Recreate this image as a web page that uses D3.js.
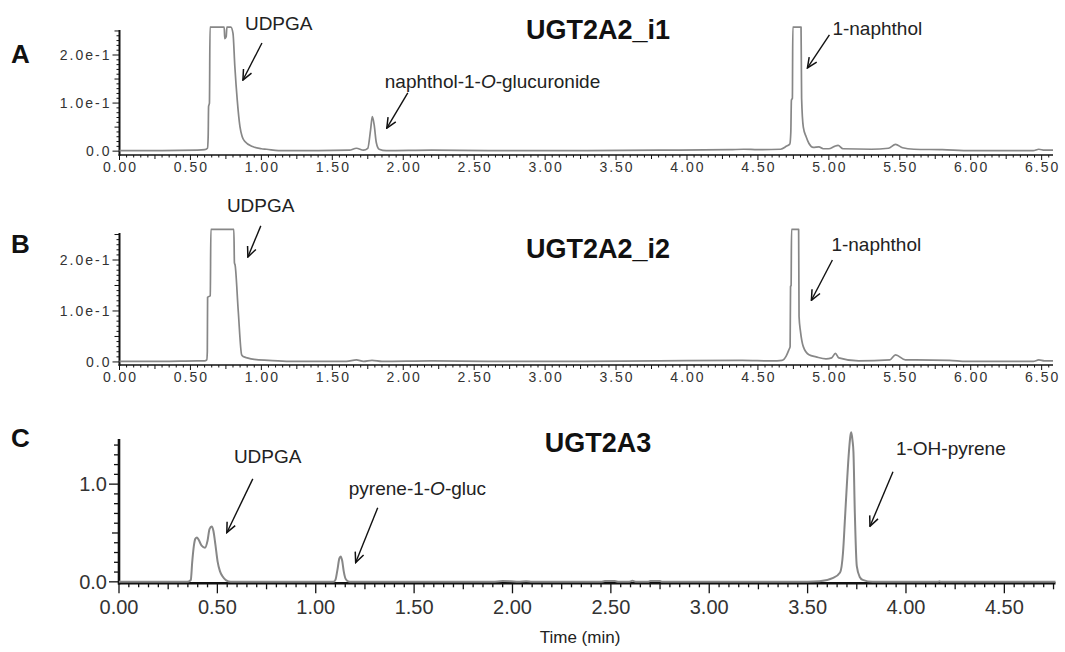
<!DOCTYPE html>
<html>
<head>
<meta charset="utf-8">
<script src="https://cdn.jsdelivr.net/npm/d3@7"></script>
<style>
  body { margin: 0; background: #fff; }
  svg { display: block; font-family: "Liberation Sans", Arial, sans-serif; }
</style>
</head>
<body>
<svg id="chart" width="1065" height="652"></svg>
<script>
// chromatogram traces: [time (min), signal]
const traceA = [
  [0.00, 0.001], [0.30, 0.001], [0.55, 0.002], [0.60, 0.003], [0.62, 0.006], [0.625, 0.03],
  [0.628, 0.093], [0.634, 0.10], [0.638, 0.258], [0.738, 0.258], [0.742, 0.234], [0.752, 0.238],
  [0.757, 0.258], [0.785, 0.258], [0.80, 0.245], [0.813, 0.176], [0.83, 0.106], [0.849, 0.051],
  [0.865, 0.03], [0.884, 0.02], [0.942, 0.009], [1.00, 0.005], [1.037, 0.004], [1.12, 0.001],
  [1.40, 0.001], [1.62, 0.002], [1.67, 0.006], [1.72, 0.002], [1.75, 0.006], [1.77, 0.045],
  [1.782, 0.072], [1.795, 0.055], [1.81, 0.018], [1.83, 0.004], [1.88, 0.001], [2.20, 0.002],
  [2.60, 0.001], [3.20, 0.001], [3.80, 0.002], [4.30, 0.003], [4.40, 0.004], [4.50, 0.003],
  [4.66, 0.004], [4.70, 0.01], [4.725, 0.015], [4.732, 0.04], [4.736, 0.106], [4.743, 0.11],
  [4.746, 0.258], [4.804, 0.258], [4.808, 0.11], [4.82, 0.05], [4.84, 0.03], [4.86, 0.016],
  [4.89, 0.008], [4.93, 0.009], [4.96, 0.005], [5.00, 0.005], [5.04, 0.01], [5.065, 0.012],
  [5.10, 0.005], [5.30, 0.004], [5.42, 0.006], [5.47, 0.014], [5.52, 0.007], [5.60, 0.004],
  [5.80, 0.003], [6.00, 0.001], [6.44, 0.001], [6.48, 0.004], [6.52, 0.002], [6.58, 0.002]
];
const traceB = [
  [0.00, 0.001], [0.30, 0.001], [0.55, 0.002], [0.60, 0.002], [0.615, 0.004], [0.619, 0.02],
  [0.621, 0.127], [0.64, 0.13], [0.644, 0.26], [0.806, 0.26], [0.81, 0.195], [0.815, 0.19],
  [0.837, 0.10], [0.861, 0.014], [0.876, 0.01], [0.90, 0.008], [0.95, 0.005], [1.05, 0.003],
  [1.20, 0.001], [1.60, 0.001], [1.67, 0.004], [1.72, 0.001], [1.78, 0.003], [1.85, 0.001],
  [2.20, 0.002], [2.60, 0.001], [3.20, 0.001], [3.80, 0.002], [4.39, 0.003], [4.60, 0.002],
  [4.67, 0.003], [4.70, 0.012], [4.72, 0.025], [4.727, 0.03], [4.73, 0.148], [4.734, 0.15],
  [4.737, 0.26], [4.787, 0.26], [4.79, 0.089], [4.80, 0.06], [4.82, 0.03], [4.86, 0.014],
  [4.91, 0.01], [4.98, 0.006], [5.02, 0.008], [5.046, 0.017], [5.07, 0.008], [5.21, 0.002],
  [5.43, 0.004], [5.47, 0.014], [5.54, 0.004], [5.61, 0.004], [5.85, 0.003], [5.97, 0.001],
  [6.44, 0.001], [6.48, 0.004], [6.52, 0.002], [6.58, 0.002]
];
const traceC = [
  [0.00, 0.0], [0.34, 0.0], [0.355, 0.004], [0.365, 0.02], [0.372, 0.2], [0.38, 0.36],
  [0.388, 0.44], [0.396, 0.455], [0.405, 0.43], [0.42, 0.37], [0.437, 0.35], [0.45, 0.42],
  [0.46, 0.54], [0.471, 0.567], [0.48, 0.52], [0.49, 0.38], [0.501, 0.21], [0.513, 0.11],
  [0.526, 0.057], [0.545, 0.015], [0.568, 0.0], [1.09, 0.0], [1.10, 0.02], [1.11, 0.12],
  [1.12, 0.24], [1.127, 0.26], [1.134, 0.22], [1.143, 0.10], [1.152, 0.03], [1.165, 0.005],
  [1.18, 0.0], [1.90, 0.0], [1.95, 0.008], [1.99, 0.006], [2.03, 0.0], [2.07, 0.006],
  [2.10, 0.0], [2.45, 0.0], [2.47, 0.008], [2.52, 0.008], [2.54, 0.0], [2.59, 0.0],
  [2.61, 0.01], [2.63, 0.0], [2.69, 0.0], [2.70, 0.008], [2.75, 0.008], [2.76, 0.0],
  [3.50, 0.0], [3.56, 0.005], [3.63, 0.04], [3.665, 0.095], [3.68, 0.3], [3.69, 0.65],
  [3.70, 1.01], [3.71, 1.33], [3.718, 1.50], [3.722, 1.53], [3.728, 1.45], [3.733, 1.33],
  [3.74, 0.71], [3.75, 0.16], [3.765, 0.05], [3.78, 0.02], [3.83, 0.0], [4.16, 0.0],
  [4.17, 0.006], [4.18, 0.0], [4.76, 0.0]
];

// axis ticks and labels
const xTicksAB = [0, 0.5, 1, 1.5, 2, 2.5, 3, 3.5, 4, 4.5, 5, 5.5, 6, 6.5];
const xLabelsAB = ["0.00", "0.50", "1.00", "1.50", "2.00", "2.50", "3.00", "3.50",
                   "4.00", "4.50", "5.00", "5.50", "6.00", "6.50"];
const yTicksAB = [0, 0.1, 0.2];
const yLabelsAB = ["0.0", "1.0e-1", "2.0e-1"];
const xTicksC = [0, 0.5, 1, 1.5, 2, 2.5, 3, 3.5, 4, 4.5];
const xLabelsC = ["0.00", "0.50", "1.00", "1.50", "2.00", "2.50", "3.00", "3.50", "4.00", "4.50"];
const yTicksC = [0, 1.0];
const yLabelsC = ["0.0", "1.0"];

const titles = ["UGT2A2_i1", "UGT2A2_i2", "UGT2A3"];
const letters = ["A", "B", "C"];

// annotations in data units; "|" toggles italic
const notesA = [
  { label: "UDPGA", t: 0.884, v: 0.252 },
  { label: "naphthol-1-|O|-glucuronide", t: 1.870, v: 0.131 },
  { label: "1-naphthol", t: 5.025, v: 0.242 }
];
const arrowsA = [[1.004, 0.225, 0.870, 0.148], [2.032, 0.121, 1.884, 0.048], [5.004, 0.242, 4.849, 0.173]];
const notesB = [
  { label: "UDPGA", t: 0.757, v: 0.294 },
  { label: "1-naphthol", t: 5.018, v: 0.218 }
];
const arrowsB = [[0.996, 0.267, 0.905, 0.206], [5.025, 0.200, 4.877, 0.121]];
const notesC = [
  { label: "UDPGA", t: 0.584, v: 1.217 },
  { label: "pyrene-1-|O|-gluc", t: 1.168, v: 0.891 },
  { label: "1-OH-pyrene", t: 3.949, v: 1.299 }
];
const arrowsC = [[0.680, 1.054, 0.548, 0.503], [1.315, 0.758, 1.203, 0.197], [3.934, 1.126, 3.817, 0.568]];

const svg = d3.select("#chart");

svg.append("defs").append("marker")
    .attr("id", "arrowhead")
    .attr("viewBox", "-11 -6 12 12")
    .attr("refX", 0).attr("refY", 0)
    .attr("markerWidth", 12).attr("markerHeight", 12)
    .attr("markerUnits", "userSpaceOnUse")
    .attr("orient", "auto")
  .append("path")
    .attr("d", "M-10,-4.5 L0,0 L-10,4.5")
    .attr("fill", "none")
    .attr("stroke", "#111")
    .attr("stroke-width", 1.5);

// panel layouts
const panels = [
  { trace: traceA, notes: notesA, arrows: arrowsA, title: titles[0], letter: letters[0],
    xMax: 6.58, yDom: [-0.008, 0.252], left: 119.5, right: 1053, top: 30, bottom: 155,
    xTicks: xTicksAB, xLabels: xLabelsAB, yTicks: yTicksAB, yLabels: yLabelsAB,
    small: true, yMinor: 0.01, yMid: 0.05, titleY: 39, letterY: 63 },
  { trace: traceB, notes: notesB, arrows: arrowsB, title: titles[1], letter: letters[1],
    xMax: 6.58, yDom: [-0.006, 0.253], left: 119.5, right: 1053, top: 233, bottom: 365,
    xTicks: xTicksAB, xLabels: xLabelsAB, yTicks: yTicksAB, yLabels: yLabelsAB,
    small: true, yMinor: 0.01, yMid: 0.05, titleY: 258, letterY: 253 },
  { trace: traceC, notes: notesC, arrows: arrowsC, title: titles[2], letter: letters[2],
    xMax: 4.76, yDom: [-0.015, 1.462], left: 119, right: 1055.5, top: 439, bottom: 583.3,
    xTicks: xTicksC, xLabels: xLabelsC, yTicks: yTicksC, yLabels: yLabelsC,
    small: false, yMinor: 0.1, yMid: 0.5, titleY: 452, letterY: 447 }
];

panels.forEach(drawPanel);

svg.append("text")
    .attr("x", 580).attr("y", 643)
    .attr("text-anchor", "middle")
    .attr("font-size", 17)
    .attr("fill", "#222")
    .text("Time (min)");

function drawPanel(p) {
  const x = d3.scaleLinear().domain([0, p.xMax]).range([p.left, p.right]);
  const y = d3.scaleLinear().domain(p.yDom).range([p.bottom, p.top]);
  const g = svg.append("g");
  const axisW = p.small ? 1.6 : 2.4;
  const yAxisW = p.small ? 2 : 2.6;

  // x ticks: every 0.05, longer at 0.25 and 0.5
  const nx = Math.floor(p.xMax / 0.05 + 1e-6);
  const xMinor = d3.range(0, nx + 1).map(i => +(i * 0.05).toFixed(2));
  g.append("g").selectAll("line")
    .data(xMinor)
    .join("line")
      .attr("x1", d => x(d)).attr("x2", d => x(d))
      .attr("y1", p.bottom)
      .attr("y2", d => {
        const k = Math.round(d * 100);
        const len = k % 50 === 0 ? (p.small ? 5 : 10) : k % 25 === 0 ? (p.small ? 4 : 6) : (p.small ? 2.5 : 4);
        return p.bottom + len;
      })
      .attr("stroke", "#111")
      .attr("stroke-width", p.small ? 1 : 1.3);

  // y ticks
  const ny = Math.floor(p.yDom[1] / p.yMinor + 1e-6);
  const yMinor = d3.range(0, ny + 1).map(i => +(i * p.yMinor).toFixed(3));
  g.append("g").selectAll("line")
    .data(yMinor)
    .join("line")
      .attr("y1", d => y(d)).attr("y2", d => y(d))
      .attr("x1", p.left)
      .attr("x2", d => {
        const isMajor = p.yTicks.some(t => Math.abs(t - d) < 1e-6);
        const isMid = Math.abs(d / p.yMid - Math.round(d / p.yMid)) < 1e-6;
        const len = isMajor ? (p.small ? 7 : 10) : isMid ? (p.small ? 5 : 7) : (p.small ? 3 : 5);
        return p.left - len;
      })
      .attr("stroke", "#111")
      .attr("stroke-width", p.small ? 1 : 1.3);

  // axis lines
  g.append("line")
    .attr("x1", p.left - 1).attr("x2", p.right)
    .attr("y1", p.bottom).attr("y2", p.bottom)
    .attr("stroke", "#111").attr("stroke-width", axisW);
  g.append("line")
    .attr("x1", p.left).attr("x2", p.left)
    .attr("y1", p.top).attr("y2", p.bottom + axisW / 2)
    .attr("stroke", "#111").attr("stroke-width", yAxisW);

  // tick labels
  g.append("g").selectAll("text")
    .data(p.xTicks)
    .join("text")
      .attr("x", d => x(d) + (p.small ? 1 : 0))
      .attr("y", p.bottom + (p.small ? 17 : 31))
      .attr("text-anchor", "middle")
      .attr("font-size", p.small ? 14 : 20)
      .attr("letter-spacing", p.small ? 2 : 0)
      .attr("fill", "#333")
      .text((d, i) => p.xLabels[i]);
  g.append("g").selectAll("text")
    .data(p.yTicks)
    .join("text")
      .attr("x", p.left - (p.small ? 8 : 12))
      .attr("y", d => y(d))
      .attr("dy", "0.35em")
      .attr("text-anchor", "end")
      .attr("font-size", p.small ? 14 : 20)
      .attr("letter-spacing", p.small ? 2 : 0)
      .attr("fill", "#333")
      .text((d, i) => p.yLabels[i]);

  // trace
  const line = d3.line()
      .x(d => x(d[0]))
      .y(d => y(d[1]))
      .curve(d3.curveMonotoneX);
  g.append("path")
    .datum(p.trace)
    .attr("d", line)
    .attr("fill", "none")
    .attr("stroke", "#878787")
    .attr("stroke-width", p.small ? 1.7 : 2)
    .attr("stroke-linejoin", "round");

  // annotations
  g.append("g").selectAll("line")
    .data(p.arrows)
    .join("line")
      .attr("x1", d => x(d[0])).attr("y1", d => y(d[1]))
      .attr("x2", d => x(d[2])).attr("y2", d => y(d[3]))
      .attr("stroke", "#111")
      .attr("stroke-width", 1.4)
      .attr("marker-end", "url(#arrowhead)");

  g.append("g").selectAll("text")
    .data(p.notes)
    .join("text")
      .attr("x", d => x(d.t))
      .attr("y", d => y(d.v))
      .attr("font-size", 19)
      .attr("fill", "#222")
      .each(function(d) {
        const parts = d.label.split("|");
        const t = d3.select(this);
        parts.forEach((s, i) => {
          t.append("tspan")
            .attr("font-style", i % 2 ? "italic" : "normal")
            .text(s);
        });
      });

  // title and panel letter
  svg.append("text")
    .attr("x", 598).attr("y", p.titleY)
    .attr("text-anchor", "middle")
    .attr("font-size", 27)
    .attr("font-weight", "bold")
    .attr("fill", "#111")
    .text(p.title);
  svg.append("text")
    .attr("x", 11).attr("y", p.letterY)
    .attr("font-size", 26)
    .attr("font-weight", "bold")
    .attr("fill", "#111")
    .text(p.letter);
}
</script>
</body>
</html>
